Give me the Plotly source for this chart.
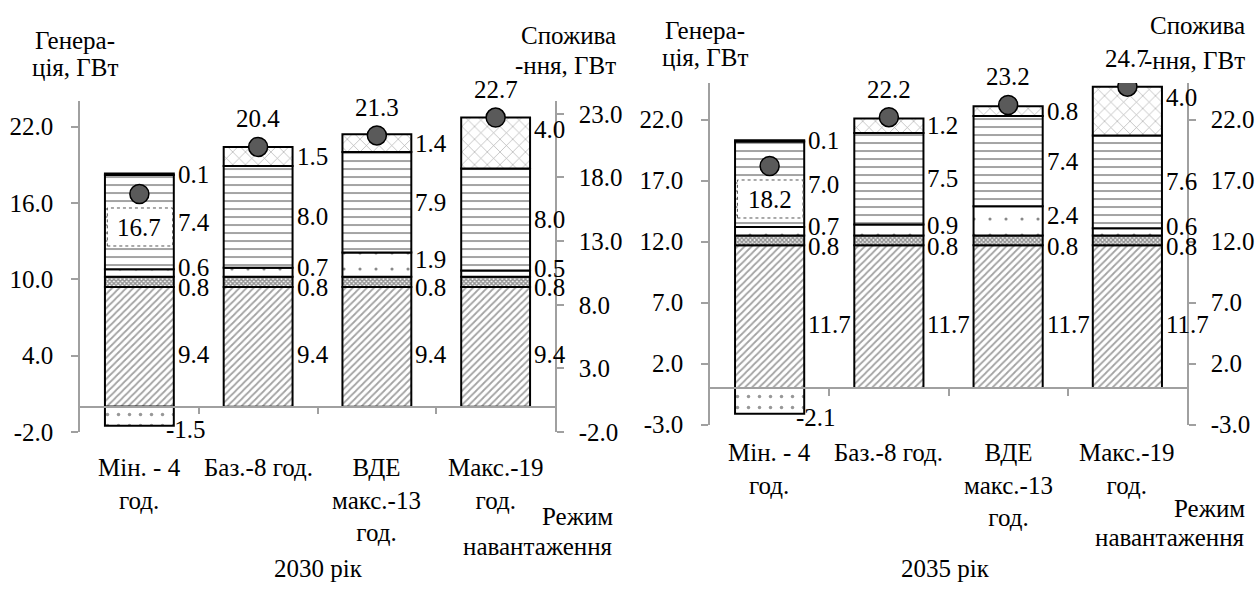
import plotly.graph_objects as go

# ---- data -------------------------------------------------------------
categories = ["Мін. - 4<br>год.", "Баз.-8 год.", "ВДЕ<br>макс.-13<br>год.", "Макс.-19<br>год."]

# 2030
nuclear_2030 = [9.4, 9.4, 9.4, 9.4]
chp_2030 = [0.8, 0.8, 0.8, 0.8]
hydro_2030 = [0.6, 0.7, 1.9, 0.5]
thermal_2030 = [7.4, 8.0, 7.9, 8.0]
other_2030 = [0.1, None, None, None]
res_2030 = [None, 1.5, 1.4, 4.0]
pumping_2030 = [-1.5, None, None, None]
load_2030 = [16.7, 20.4, 21.3, 22.7]

# 2035
nuclear_2035 = [11.7, 11.7, 11.7, 11.7]
chp_2035 = [0.8, 0.8, 0.8, 0.8]
hydro_2035 = [0.7, 0.9, 2.4, 0.6]
thermal_2035 = [7.0, 7.5, 7.4, 7.6]
other_2035 = [0.1, None, None, None]
res_2035 = [None, 1.2, 0.8, 4.0]
pumping_2035 = [-2.1, None, None, None]
load_2035 = [18.2, 22.2, 23.2, 24.7]

# axis ticks
gen_ticks_2030 = [-2.0, 4.0, 10.0, 16.0, 22.0]
cons_ticks_2030 = [-2.0, 3.0, 8.0, 13.0, 18.0, 23.0]
gen_ticks_2035 = [-3.0, 2.0, 7.0, 12.0, 17.0, 22.0]
cons_ticks_2035 = [-3.0, 2.0, 7.0, 12.0, 17.0, 22.0]

# ---- styling ----------------------------------------------------------
W, H = 1258, 591
Y_SCALE = 0.976  # vertical layout positions below are given in page pixels
FONT = "'Liberation Serif', 'Times New Roman', Tinos, 'DejaVu Serif', serif"
AX = "#a0a0a0"
NUM_SIZE = 25
TXT_SIZE = 25


def px(x):
    return x / W


def py(y):
    return max(0.0, 1 - (y / Y_SCALE) / H)


def fy(y):
    """page pixels -> figure pixels"""
    return y / Y_SCALE


STYLES = {
    "nuclear": dict(color="white", pattern=dict(shape="/", size=5, solidity=0.35, fgcolor="#454545", bgcolor="white")),
    "chp": dict(color="white", pattern=dict(shape="x", size=3, solidity=0.7, fgcolor="#2a2a2a", bgcolor="white")),
    "hydro": dict(color="white", pattern=dict(shape=".", size=16, solidity=0.03, fgcolor="#101010", bgcolor="white")),
    "thermal": dict(color="white", pattern=dict(shape="-", size=8, solidity=0.24, fgcolor="#404040", bgcolor="white")),
    "other": dict(color="black"),
    "res": dict(color="white", pattern=dict(shape="x", size=9, solidity=0.14, fgcolor="#555555", bgcolor="white")),
    "pumping": dict(color="white", pattern=dict(shape=".", size=11, solidity=0.08, fgcolor="#303030", bgcolor="white")),
}

# small vertical nudges of the segment value labels (px), per series
LABEL_NUDGE = {"nuclear": -8, "chp": -6, "hydro": 5, "thermal": 0, "other": 0, "res": 0}
TOP_LABEL_GAP = 0.9  # top-segment label kept at most this far below the bar top

panels = [
    dict(
        title="2030 рік",
        series=[("АЕС", nuclear_2030, "nuclear"), ("ТЕЦ", chp_2030, "chp"), ("ГЕС", hydro_2030, "hydro"),
                ("ТЕС", thermal_2030, "thermal"), ("Інші", other_2030, "other"), ("ВДЕ", res_2030, "res")],
        negative=("ГАЕС (насосний режим)", pumping_2030, "pumping"),
        load=load_2030,
        gen_ticks=gen_ticks_2030, cons_ticks=cons_ticks_2030,
        yrange=[-2, 24],
        xpx=(80, 555), ypx=(432, 101),
        xa="x", ya="y", ya2="y2", xkey="xaxis", ykey="yaxis", y2key="yaxis2",
        cat_top=451,
        ytitle=[("Генера-", 75, 40), ("ція, ГВт", 75, 67)],
        y2title=[("Спожива", 618, 35), ("-ння, ГВт", 618, 65)],
        xtitle=[("Режим", 615, 516), ("навантаження", 615, 546)],
        title_xy=(318, 568),
    ),
    dict(
        title="2035 рік",
        series=[("АЕС", nuclear_2035, "nuclear"), ("ТЕЦ", chp_2035, "chp"), ("ГЕС", hydro_2035, "hydro"),
                ("ТЕС", thermal_2035, "thermal"), ("Інші", other_2035, "other"), ("ВДЕ", res_2035, "res")],
        negative=("ГАЕС (насосний режим)", pumping_2035, "pumping"),
        load=load_2035,
        gen_ticks=gen_ticks_2035, cons_ticks=cons_ticks_2035,
        yrange=[-3, 25],
        xpx=(710, 1187), ypx=(424.5, 83),
        xa="x2", ya="y3", ya2="y4", xkey="xaxis2", ykey="yaxis3", y2key="yaxis4",
        cat_top=437,
        ytitle=[("Генера-", 705, 30), ("ція, ГВт", 705, 57)],
        y2title=[("Спожива", 1247, 25), ("-ння, ГВт", 1247, 60)],
        xtitle=[("Режим", 1247, 508), ("навантаження", 1247, 537)],
        title_xy=(945, 568),
    ),
]

BAR_W = 0.58
xs = list(range(len(categories)))

fig = go.Figure()
annotations = []
shapes = []
layout_axes = {}


def num_font(size=NUM_SIZE):
    return dict(family=FONT, size=size, color="black")


def txt_font():
    return dict(family=FONT, size=TXT_SIZE, color="black")


for p in panels:
    xa, ya, ya2 = p["xa"], p["ya"], p["ya2"]
    tops = [0.0] * len(xs)
    labels = []

    # stacked positive segments
    for name, vals, key in p["series"]:
        fig.add_trace(go.Bar(
            x=xs, y=vals, width=BAR_W, name=name,
            marker=dict(**STYLES[key], line=dict(color="black", width=2)),
            xaxis=xa, yaxis=ya, showlegend=False, hoverinfo="skip",
        ))
        for i, v in enumerate(vals):
            if v is None:
                continue
            labels.append([i, tops[i] + v / 2, v, key])
            tops[i] += v

    # the uppermost segment label of each bar stays close to the bar top
    for i in xs:
        top_lab = max((lab for lab in labels if lab[0] == i), key=lambda lab: lab[1])
        top_lab[1] = max(top_lab[1], tops[i] - TOP_LABEL_GAP)

    for i, yc, v, key in labels:
        annotations.append(dict(
            x=i + BAR_W / 2, y=yc, xref=xa, yref=ya, text=f"{v:.1f}",
            xanchor="left", yanchor="middle", xshift=2, yshift=LABEL_NUDGE[key],
            showarrow=False, font=num_font(),
        ))

    # negative segment below zero
    name, vals, key = p["negative"]
    fig.add_trace(go.Bar(
        x=xs, y=vals, width=BAR_W, name=name,
        marker=dict(**STYLES[key], line=dict(color="black", width=2)),
        xaxis=xa, yaxis=ya, showlegend=False, hoverinfo="skip",
    ))
    for i, v in enumerate(vals):
        if v is None:
            continue
        annotations.append(dict(
            x=i + BAR_W / 2, y=v, xref=xa, yref=ya, text=f"{v:.1f}",
            xanchor="left", yanchor="middle", xshift=-10, yshift=-4, showarrow=False, font=num_font(),
        ))

    # consumption markers
    fig.add_trace(go.Scatter(
        x=xs, y=p["load"], mode="markers", name="Споживання",
        marker=dict(size=19, color="#5a5a5a", line=dict(color="black", width=1.5)),
        xaxis=xa, yaxis=ya2, showlegend=False, hoverinfo="skip",
    ))
    for i, v in enumerate(p["load"]):
        if v < tops[i] - 1.0:
            # value sits inside the bar: white box with dotted frame below the marker
            shapes.append(dict(
                type="rect", xref=xa, yref=ya2, ysizemode="pixel", yanchor=v,
                x0=i - 0.27, x1=i + 0.28, y0=-52, y1=-14,
                line=dict(color="#555555", width=1, dash="dot"), fillcolor="white", layer="above",
            ))
            annotations.append(dict(
                x=i, y=v, xref=xa, yref=ya2, text=f"{v:.1f}", yshift=-34,
                showarrow=False, font=num_font(),
            ))
        else:
            annotations.append(dict(
                x=i, y=v, xref=xa, yref=ya2, text=f"{v:.1f}", yshift=28,
                showarrow=False, font=num_font(),
            ))

    # category labels under the plot
    cat_shift = -(fy(p["cat_top"]) - fy(p["ypx"][0]))
    for i, c in enumerate(categories):
        annotations.append(dict(
            x=i, y=0, xref=xa, yref=f"{ya} domain", text=c, yanchor="top", yshift=cat_shift,
            showarrow=False, font=txt_font(),
        ))

    # axis titles and panel caption
    for t, x, y in p["ytitle"]:
        annotations.append(dict(x=px(x), y=py(y), xref="paper", yref="paper", text=t,
                                xanchor="center", yanchor="middle", showarrow=False, font=txt_font()))
    for t, x, y in p["y2title"] + p["xtitle"]:
        annotations.append(dict(x=px(x), y=py(y), xref="paper", yref="paper", text=t,
                                xanchor="right", yanchor="middle", showarrow=False, font=txt_font()))
    tx, ty = p["title_xy"]
    annotations.append(dict(x=px(tx), y=py(ty), xref="paper", yref="paper", text=p["title"],
                            xanchor="center", yanchor="middle", showarrow=False, font=txt_font()))

    # axes
    y0, y1 = p["yrange"]
    ydom = [py(p["ypx"][0]), py(p["ypx"][1])]
    zero_pos = ydom[0] + (0 - y0) / (y1 - y0) * (ydom[1] - ydom[0])
    common = dict(showline=True, linecolor=AX, linewidth=1.5, ticks="outside", ticklen=7,
                  tickcolor=AX, tickwidth=1.5, showgrid=False, zeroline=False, fixedrange=True)
    layout_axes[p["xkey"]] = dict(
        domain=[px(p["xpx"][0]), px(p["xpx"][1])], range=[-0.5, len(xs) - 0.5],
        anchor="free", position=zero_pos, tickmode="array", tickvals=[i + 0.5 for i in xs[:-1]],
        showticklabels=False, **common,
    )
    layout_axes[p["ykey"]] = dict(
        domain=ydom, range=p["yrange"], anchor=xa, tickmode="array",
        tickvals=p["gen_ticks"], ticktext=[f"{t:.1f}" for t in p["gen_ticks"]],
        ticklabelstandoff=13, tickfont=num_font(), **common,
    )
    layout_axes[p["y2key"]] = dict(
        domain=ydom, range=p["yrange"], anchor=xa, overlaying=ya, side="right", tickmode="array",
        tickvals=p["cons_ticks"], ticktext=[f"{t:.1f}" for t in p["cons_ticks"]],
        ticklabelstandoff=10, tickfont=num_font(), **common,
    )

fig.update_layout(
    width=W, height=H, autosize=False, margin=dict(l=0, r=0, t=0, b=0),
    paper_bgcolor="white", plot_bgcolor="white",
    barmode="relative", showlegend=False,
    font=dict(family=FONT, size=NUM_SIZE, color="black"),
    annotations=annotations, shapes=shapes,
    **layout_axes,
)

fig.write_html("out.html", config={"responsive": False, "displayModeBar": False})
